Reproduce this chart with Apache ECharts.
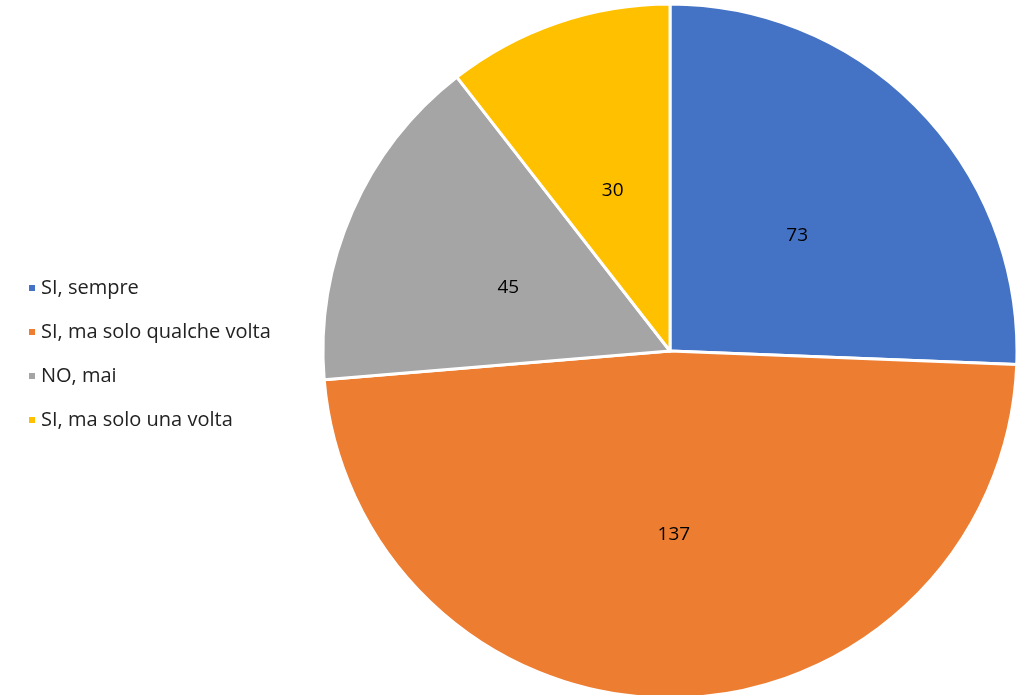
<!DOCTYPE html>
<html lang="it">
  <head>
    <meta charset="UTF-8">
    <title>Pie</title>
    <script src="https://cdn.jsdelivr.net/npm/echarts@6.0.0/dist/echarts.min.js"></script>
    <style>
      body { margin: 0; background: #fff; }
    </style>
  </head>
  <body>
    <div id="main" style="width: 1023px;height:695px;"></div>
    <script type="text/javascript">
      // categories and values
      const categories = ['SI, sempre', 'SI, ma solo qualche volta', 'NO, mai', 'SI, ma solo una volta'];
      const values = [73, 137, 45, 30];
      const colors = ['#4472C4', '#ED7D31', '#A5A5A5', '#FFC000'];

      let myChart = echarts.init(document.getElementById('main'));

      const data = categories.map((name, i) => ({
        name: name,
        value: values[i],
        itemStyle: { color: colors[i] }
      }));

      let options = {
        animation: false,
        textStyle: { fontFamily: 'Open Sans' },
        legend: {
          orient: 'vertical',
          left: 22,
          top: 271,
          icon: 'rect',
          itemWidth: 8,
          itemHeight: 8,
          itemGap: 20,
          textStyle: { fontSize: 20, color: '#222', fontFamily: 'Open Sans', lineHeight: 24 },
          data: categories
        },
        series: [{
          type: 'pie',
          center: [670, 351],
          radius: 347,
          startAngle: 90,
          clockwise: true,
          itemStyle: { borderColor: '#fff', borderWidth: 3 },
          label: {
            position: 'inside',
            formatter: '{c}',
            fontSize: 19,
            color: '#000',
            fontFamily: 'Open Sans',
            offset: [0, 7]
          },
          labelLine: { show: false },
          data: data
        }]
      };

      myChart.setOption(options);
    </script>
  </body>
</html>
